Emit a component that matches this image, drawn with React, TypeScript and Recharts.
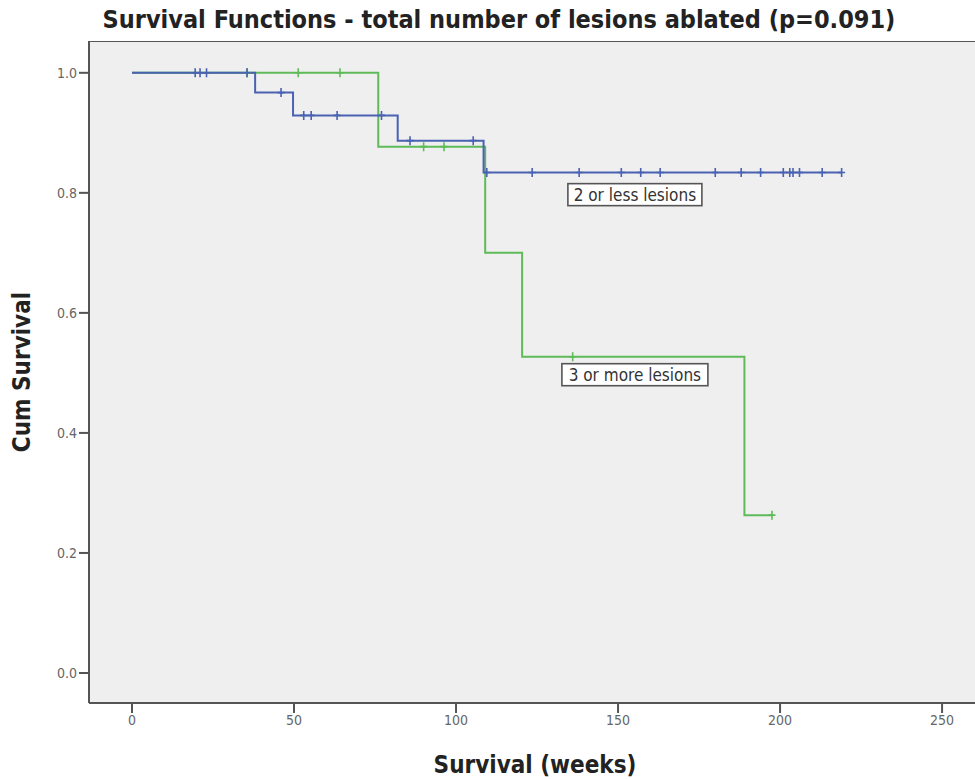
import React from 'react';
import { ComposedChart, Line, Scatter, XAxis, YAxis, ReferenceArea, ReferenceDot } from 'recharts';

const xTicks = [0, 50, 100, 150, 200, 250];
const yTicks = [0, 0.2, 0.4, 0.6, 0.8, 1.0];

const blueStepWeeks = [0, 38, 49.7, 82, 108.5, 219];
const blueStepSurv = [1, 0.967, 0.929, 0.887, 0.834, 0.834];
const greenStepWeeks = [0, 76, 109, 120.4, 189, 197.5];
const greenStepSurv = [1, 0.877, 0.7, 0.527, 0.263, 0.263];

const blueCensorWeeks = [19.5, 21, 23, 35.5, 46, 53, 55.3, 63.3, 77, 85.8, 105.3, 109.5, 123.5, 138, 151, 157, 163, 180, 188, 194, 201, 203, 204, 206, 213, 219];
const blueCensorSurv = [1, 1, 1, 1, 0.967, 0.929, 0.929, 0.929, 0.929, 0.887, 0.887, 0.834, 0.834, 0.834, 0.834, 0.834, 0.834, 0.834, 0.834, 0.834, 0.834, 0.834, 0.834, 0.834, 0.834, 0.834];
const greenCensorWeeks = [35.5, 51.3, 64.2, 90, 96.3, 136, 197.5];
const greenCensorSurv = [1, 1, 1, 0.877, 0.877, 0.527, 0.263];

const seriesLabels = ['2 or less lesions', '3 or more lesions'];
const labelWeeks = [155.2, 155.2];
const labelSurv = [0.797, 0.497];

const BLUE = '#4a62b2';
const GREEN = '#5fbb5a';
const FONT = '"DejaVu Sans Condensed", "DejaVu Sans", sans-serif';

const zip = (xs: number[], ys: number[]) => xs.map((x, i) => ({ x, y: ys[i] }));
const blueSteps = zip(blueStepWeeks, blueStepSurv);
const greenSteps = zip(greenStepWeeks, greenStepSurv);
const blueCensors = zip(blueCensorWeeks, blueCensorSurv);
const greenCensors = zip(greenCensorWeeks, greenCensorSurv);

const X_MIN = -13.27;
const X_MAX = 265.1;
const Y_MIN = -0.05;
const Y_MAX = 1.053;

const cross = (color: string) => (props: any) => {
  const { cx, cy } = props;
  if (cx == null || cy == null) return <g />;
  return (
    <path
      d={`M${cx - 3.5},${cy}H${cx + 3.5}M${cx},${cy - 4.5}V${cy + 4.5}`}
      stroke={color}
      strokeWidth={1.6}
      fill="none"
    />
  );
};

const boxLabel = (text: string, w: number) => (props: any) => {
  const { cx, cy } = props;
  if (cx == null || cy == null) return <g />;
  return (
    <g>
      <rect x={cx - w / 2} y={cy - 11} width={w} height={22} fill="#ffffff" stroke="#555" strokeWidth={1.6} />
      <text x={cx} y={cy + 6} textAnchor="middle" fontFamily={FONT} fontSize={17} fill="#333">
        {text}
      </text>
    </g>
  );
};

export default function App() {
  return (
    <div style={{ position: 'fixed', left: 0, top: 0, width: 975, height: 779, overflow: 'hidden', background: '#fff' }}>
      <style>{'html,body{margin:0;padding:0;overflow:hidden;}'}</style>
      <div style={{ position: 'absolute', left: 0, top: 0 }}>
        <ComposedChart width={1010} height={779} margin={{ top: 41, right: 19, bottom: 16, left: 49 }}>
          <XAxis
            type="number"
            dataKey="x"
            domain={[X_MIN, X_MAX]}
            ticks={xTicks}
            allowDataOverflow
            height={60}
            tickSize={10}
            tick={{ fontFamily: FONT, fontSize: 14, fill: '#666' }}
            axisLine={{ stroke: '#555', strokeWidth: 2 }}
            tickLine={{ stroke: '#555', strokeWidth: 2 }}
          />
          <YAxis
            type="number"
            dataKey="y"
            domain={[Y_MIN, Y_MAX]}
            ticks={yTicks}
            allowDataOverflow
            width={40}
            tickSize={10}
            tickFormatter={(v: number) => v.toFixed(1)}
            tick={{ fontFamily: FONT, fontSize: 14, fill: '#666' }}
            axisLine={{ stroke: '#555', strokeWidth: 2 }}
            tickLine={{ stroke: '#555', strokeWidth: 2 }}
          />
          <ReferenceArea x1={X_MIN} x2={X_MAX} y1={Y_MIN} y2={Y_MAX} fill="#efefef" fillOpacity={1} stroke="#555" strokeWidth={2} ifOverflow="hidden" />
          <Line data={greenSteps} dataKey="y" type="stepAfter" stroke={GREEN} strokeWidth={2} dot={false} isAnimationActive={false} />
          <Line data={blueSteps} dataKey="y" type="stepAfter" stroke={BLUE} strokeWidth={2} dot={false} isAnimationActive={false} />
          <Scatter data={greenCensors} dataKey="y" shape={cross(GREEN)} isAnimationActive={false} />
          <Scatter data={blueCensors} dataKey="y" shape={cross(BLUE)} isAnimationActive={false} />
          <ReferenceDot x={labelWeeks[0]} y={labelSurv[0]} shape={boxLabel(seriesLabels[0], 134)} />
          <ReferenceDot x={labelWeeks[1]} y={labelSurv[1]} shape={boxLabel(seriesLabels[1], 146)} />
        </ComposedChart>
      </div>
      <div
        style={{
          position: 'absolute', left: 499 - 460, top: 7, width: 920, textAlign: 'center', whiteSpace: 'nowrap',
          fontFamily: FONT, fontWeight: 'bold', fontSize: 25, lineHeight: '26px', color: '#222',
        }}
      >
        Survival Functions - total number of lesions ablated (p=0.091)
      </div>
      <div
        style={{
          position: 'absolute', left: 22 - 100, top: 372 - 14, width: 200, height: 28, textAlign: 'center', whiteSpace: 'nowrap',
          transform: 'rotate(-90deg)', fontFamily: FONT, fontWeight: 'bold', fontSize: 24, lineHeight: '28px', color: '#222',
        }}
      >
        Cum Survival
      </div>
      <div
        style={{
          position: 'absolute', left: 535 - 150, top: 765 - 13, width: 300, height: 26, textAlign: 'center', whiteSpace: 'nowrap',
          fontFamily: FONT, fontWeight: 'bold', fontSize: 24, lineHeight: '26px', color: '#222',
        }}
      >
        Survival (weeks)
      </div>
    </div>
  );
}
